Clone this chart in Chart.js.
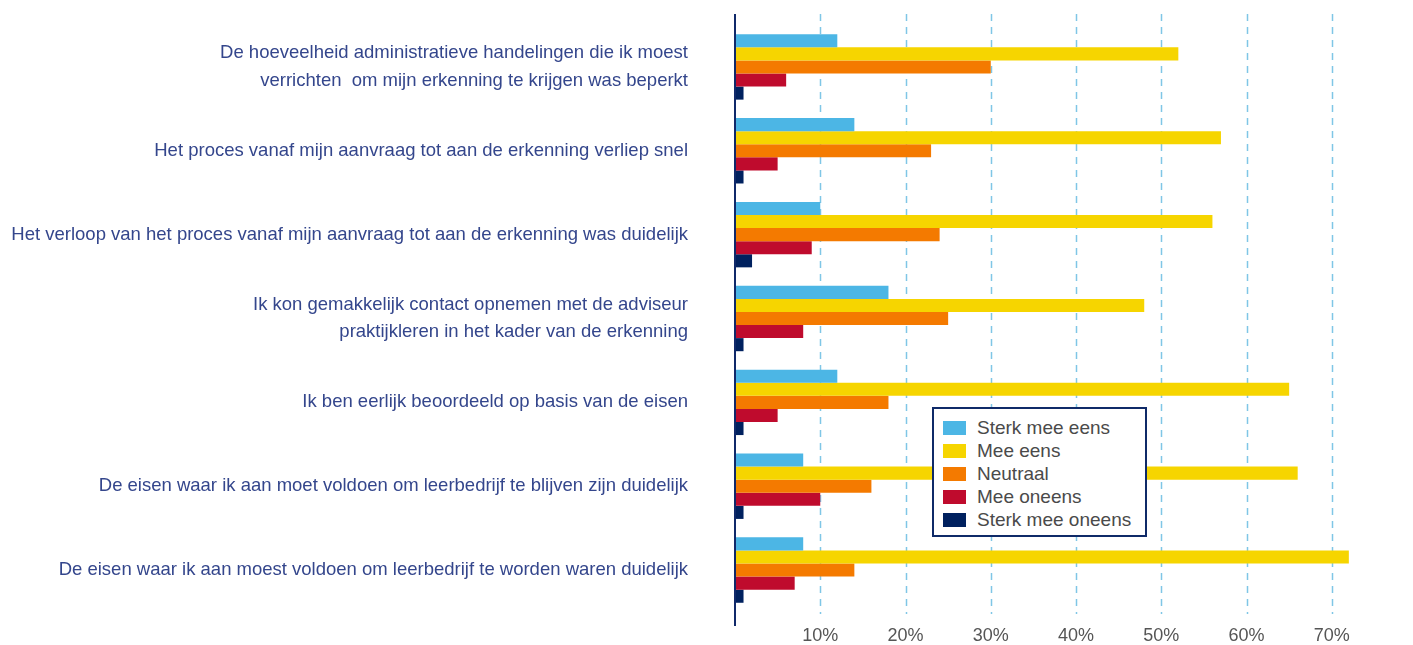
<!DOCTYPE html>
<html>
<head>
<meta charset="utf-8">
<script src="https://cdn.jsdelivr.net/npm/chart.js@4"></script>
<style>
  html, body { margin: 0; padding: 0; background: #fff; }
  #wrap { position: relative; width: 1413px; height: 645px; }
  #legend {
    position: absolute; left: 932px; top: 407px; width: 211px; height: 126px;
    border: 2px solid #0f2a68; background: #fff; box-sizing: content-box;
    font-family: "Liberation Sans", Arial, sans-serif; font-size: 19px; color: #4a4a4a;
  }
  #legend .row { position: absolute; left: 9px; height: 23px; line-height: 23px; white-space: nowrap; }
  #legend .sw { display: inline-block; width: 23px; height: 14px; margin-right: 11px; vertical-align: -1px; }
</style>
</head>
<body>
<div id="wrap">
  <canvas id="graph-viewer" width="1413" height="645"></canvas>
  <div id="legend"></div>
</div>
<script>
const categories = [
    ["De hoeveelheid administratieve handelingen die ik moest", "verrichten  om mijn erkenning te krijgen was beperkt"],
    "Het proces vanaf mijn aanvraag tot aan de erkenning verliep snel",
    "Het verloop van het proces vanaf mijn aanvraag tot aan de erkenning was duidelijk",
    ["Ik kon gemakkelijk contact opnemen met de adviseur", "praktijkleren in het kader van de erkenning"],
    "Ik ben eerlijk beoordeeld op basis van de eisen",
    "De eisen waar ik aan moet voldoen om leerbedrijf te blijven zijn duidelijk",
    "De eisen waar ik aan moest voldoen om leerbedrijf te worden waren duidelijk"
];
const seriesNames = ["Sterk mee eens", "Mee eens", "Neutraal", "Mee oneens", "Sterk mee oneens"];
const sterkMeeEens   = [12, 14, 10, 18, 12, 8, 8];
const meeEens        = [52, 57, 56, 48, 65, 66, 72];
const neutraal       = [30, 23, 24, 25, 18, 16, 14];
const meeOneens      = [6, 5, 9, 8, 5, 10, 7];
const sterkMeeOneens = [1, 1, 2, 1, 1, 1, 1];
const tickValues = [10, 20, 30, 40, 50, 60, 70];

const colors = ['#4cb6e5', '#f6d500', '#f47a00', '#bf0b2d', '#00215f'];
const values = [sterkMeeEens, meeEens, neutraal, meeOneens, sterkMeeOneens];

const fontFamily = '"Liberation Sans", Arial, sans-serif';

// dashed gridlines and the axis line reach a bit past the plot area
const extraLines = {
    id: 'extraLines',
    beforeDatasetsDraw(chart) {
        const ctx = chart.ctx, x = chart.scales.x;
        ctx.save();
        ctx.strokeStyle = '#7fc6e6';
        ctx.lineWidth = 1.5;
        ctx.setLineDash([7, 6]);
        tickValues.forEach(v => {
            const px = Math.round(x.getPixelForValue(v)) + 0.5;
            ctx.beginPath();
            ctx.moveTo(px, 14);
            ctx.lineTo(px, 614);
            ctx.stroke();
        });
        ctx.restore();
    },
    afterDatasetsDraw(chart) {
        const ctx = chart.ctx, x = chart.scales.x;
        const px = x.getPixelForValue(0);
        ctx.save();
        ctx.strokeStyle = '#10296a';
        ctx.lineWidth = 2;
        ctx.beginPath();
        ctx.moveTo(px, 14);
        ctx.lineTo(px, 626);
        ctx.stroke();
        ctx.restore();
    }
};

document.addEventListener('DOMContentLoaded', function() {
    const data = {
        labels: categories,
        datasets: seriesNames.map((name, i) => ({
            label: name,
            data: values[i],
            backgroundColor: colors[i],
            borderWidth: 0,
            barPercentage: 1,
            categoryPercentage: 0.78
        }))
    };

    const options = {
        indexAxis: 'y',
        responsive: false,
        animation: false,
        layout: { padding: { top: 25, right: 13, bottom: 0, left: 0 } },
        plugins: {
            legend: { display: false },
            tooltip: { enabled: false }
        },
        scales: {
            x: {
                min: 0,
                max: 78,
                grid: { display: false },
                border: { display: false },
                afterFit(scale) {
                    scale.height = 33;
                    scale.paddingLeft = 0;
                    scale.paddingRight = 0;
                },
                ticks: {
                    stepSize: 10,
                    padding: 5,
                    maxRotation: 0,
                    color: '#555555',
                    font: { family: fontFamily, size: 18 },
                    callback: v => (v === 0 || v > 70) ? '' : v + '%'
                }
            },
            y: {
                grid: { display: false },
                border: { display: false },
                afterFit(scale) {
                    scale.width = 735;
                    scale.paddingTop = 0;
                    scale.paddingBottom = 0;
                },
                ticks: {
                    padding: 39,
                    color: '#34468c',
                    font: { family: fontFamily, size: 18.5, lineHeight: 1.5 }
                }
            }
        }
    };

    const ctx = document.getElementById('graph-viewer').getContext('2d');
    new Chart(ctx, { type: 'bar', data: data, options: options, plugins: [extraLines] });

    const legend = document.getElementById('legend');
    seriesNames.forEach((name, i) => {
        const row = document.createElement('div');
        row.className = 'row';
        row.style.top = (7 + i * 23) + 'px';
        row.innerHTML = '<span class="sw" style="background:' + colors[i] + '"></span>' + name;
        legend.appendChild(row);
    });
});
</script>
</body>
</html>
